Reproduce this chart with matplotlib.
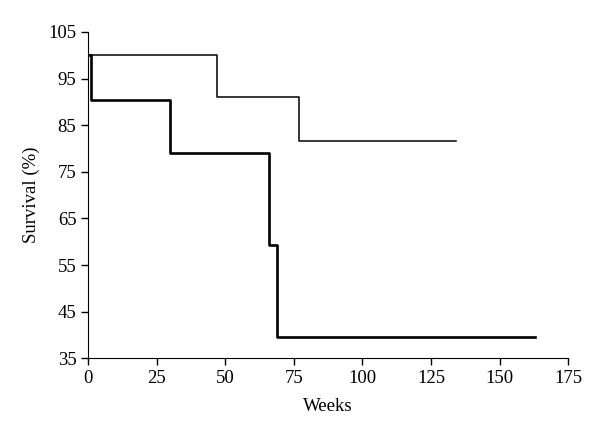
import matplotlib.pyplot as plt

plt.rcParams['font.family'] = ['Liberation Serif', 'DejaVu Serif']

# thin line (group A)
weeks_a = [0, 47, 77, 134]
surv_a = [100, 91, 81.5, 81.5]

# thick line (group B)
weeks_b = [0, 1, 30, 66, 69, 163]
surv_b = [100, 90.3, 79, 59.3, 39.6, 39.6]

xticks = [0, 25, 50, 75, 100, 125, 150, 175]
yticks = [35, 45, 55, 65, 75, 85, 95, 105]

fig = plt.figure(figsize=(6, 4.37), dpi=100)
ax = fig.add_axes([0.147, 0.18, 0.8, 0.747])

ax.step(weeks_a, surv_a, where='post', color='black', lw=1.1)
ax.step(weeks_b, surv_b, where='post', color='black', lw=1.9)

ax.set_xlim(0, 175)
ax.set_ylim(35, 105)
ax.set_xticks(xticks)
ax.set_yticks(yticks)
ax.spines['top'].set_visible(False)
ax.spines['right'].set_visible(False)
ax.tick_params(direction='out', length=5, width=1, labelsize=13.5)
ax.set_xlabel('Weeks', fontsize=13.5, labelpad=8)
ax.set_ylabel('Survival (%)', fontsize=13.5, labelpad=6)

fig.savefig('out.png', dpi=100)
